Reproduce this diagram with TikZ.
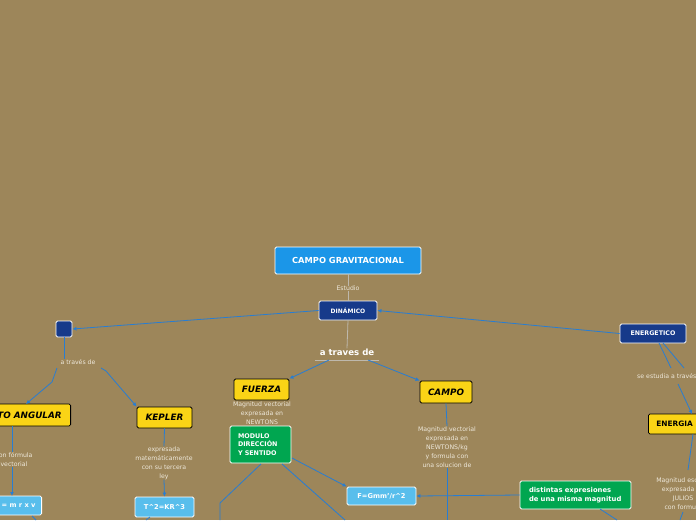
\documentclass[tikz,border=0pt]{standalone}
\usepackage{fontspec}
\setmainfont{DejaVu Sans}
\usetikzlibrary{arrows.meta}
\definecolor{fondo}{RGB}{157,134,90}
\definecolor{azulvivo}{RGB}{27,150,232}
\definecolor{marino}{RGB}{22,58,138}
\definecolor{amarillo}{RGB}{250,212,22}
\definecolor{verde}{RGB}{0,166,80}
\definecolor{celeste}{RGB}{88,190,236}
\definecolor{enlace}{RGB}{40,125,210}
\definecolor{gris}{RGB}{190,184,172}
\definecolor{rotulo}{RGB}{238,232,218}
\begin{document}
\begin{tikzpicture}[x=1pt,y=-1pt,
  caja/.style={draw=white, line width=0.8pt, rounded corners=1.5pt, inner sep=0pt,
    text=white, font=\bfseries\fontsize{6.7}{8.5}\selectfont},
  tema/.style={draw=black, fill=amarillo, line width=0.8pt, rounded corners=1.5pt,
    inner sep=0pt, font=\bfseries\itshape\fontsize{8.8}{9}\selectfont},
  rotulo/.style={text=rotulo, font=\fontsize{6.2}{9}\selectfont, align=center, inner sep=0pt},
  enlace/.style={draw=enlace, line width=0.8pt},
  flecha/.style={enlace, -{Latex[length=4pt,width=4pt]}},
  guia/.style={draw=gris, line width=0.8pt}]

  \fill[fondo] (0,0) rectangle (696,520);
  \useasboundingbox (0,0) rectangle (696,520);

  % centro
  \node[caja, fill=azulvivo, minimum width=146, minimum height=27,
    font=\bfseries\fontsize{8.3}{9}\selectfont] (campograv) at (348,260.5) {CAMPO GRAVITACIONAL};
  \node[rotulo] (estudio) at (348,288.5) {Estudio};
  \node[caja, fill=marino, minimum width=58, minimum height=19,
    font=\bfseries\fontsize{6}{8}\selectfont] (dinamico) at (348,310.5) {DINÁMICO};
  \node[text=white, inner sep=0pt, font=\bfseries\fontsize{8.6}{9}\selectfont] (atraves) at (347,352) {a traves de};
  \coordinate (subizq) at (315,360);
  \coordinate (subder) at (379,360);
  \coordinate (sal1) at (329,360);
  \coordinate (sal2) at (368,360);

  \draw[guia] (campograv.south) -- (estudio.north);
  \draw[guia] (estudio.south) -- (dinamico.north);
  \draw[guia] (dinamico.south) -- (atraves.north);
  \draw[guia] (subizq) -- (subder);

  % laterales
  \node[caja, fill=marino, minimum width=16, minimum height=16] (cuadro) at (64,329) {};
  \node[caja, fill=marino, minimum width=66, minimum height=19,
    font=\bfseries\fontsize{6.3}{8}\selectfont] (energetico) at (653,333.5) {ENERGETICO};
  \draw[flecha] (dinamico.west) -- (cuadro.east);
  \draw[flecha] (energetico.west) -- (dinamico.east);

  % rama izquierda
  \node[rotulo] (atraves2) at (78,362) {a través de};
  \node[tema, anchor=east, minimum height=22, inner xsep=9pt] (momento) at (71,415) {MOMENTO ANGULAR};
  \node[tema, minimum width=55, minimum height=21] (kepler) at (164.5,417.5) {KEPLER};
  \node[rotulo] (formvec) at (14,459.5) {con fórmula\\vectorial};
  \node[caja, fill=celeste, anchor=east, minimum height=19, inner xsep=6pt] (momfor) at (42,505.5) {L = m r x v};
  \node[rotulo] (keplertxt) at (164,463) {expresada\\matemáticamente\\con su tercera\\ley};
  \node[caja, fill=celeste, minimum width=59, minimum height=20] (tercera) at (164.5,507) {T\textasciicircum 2=KR\textasciicircum 3};
  \coordinate (codo1) at (52,382);
  \coordinate (momarr) at (26,404);
  \coordinate (momsal) at (12,426);
  \coordinate (momfin) at (12,496);
  \coordinate (forsal) at (32,516);
  \coordinate (forfin) at (36,520);
  \coordinate (tersal) at (150,517);
  \coordinate (terfin) at (146,520);

  \draw[enlace] (cuadro.south) -- (cuadro |- atraves2.north);
  \draw[flecha] (57,368) -- (codo1) -- (momarr);
  \draw[flecha] (101,368) -- (106,371) -- (kepler.north west);
  \draw[enlace] (momsal) -- (momsal |- formvec.north);
  \draw[flecha] (momsal |- formvec.south) -- (momfin);
  \draw[enlace] (kepler.south) -- (keplertxt.north);
  \draw[flecha] (keplertxt.south) -- (tercera.north);
  \draw[enlace] (forsal) -- (forfin);
  \draw[enlace] (tersal) -- (terfin);

  % rama central
  \node[tema, minimum width=55, minimum height=21] (fuerza) at (261.5,389.5) {FUERZA};
  \node[rotulo] (fuerzatxt) at (262,413) {Magnitud vectorial\\expresada en\\NEWTONS};
  \node[caja, fill=verde, minimum width=61, minimum height=37, text width=45, align=left,
    font=\bfseries\fontsize{6.4}{8.5}\selectfont] (modulo) at (260.5,444.5) {MODULO\\DIRECCIÓN\\Y SENTIDO};
  \node[tema, minimum width=52, minimum height=22] (campo) at (446,392) {CAMPO};
  \node[rotulo] (campotxt) at (447,447) {Magnitud vectorial\\expresada en\\NEWTONS/kg\\y formula con\\una solucion de};
  \node[caja, fill=celeste, minimum width=69, minimum height=18] (gmm) at (381.5,496) {F=Gmm'/r\textasciicircum 2};
  \node[caja, fill=verde, minimum width=111, minimum height=28, text width=93, align=left,
    font=\bfseries\fontsize{6.8}{9}\selectfont] (distintas) at (575.5,495) {distintas expresiones\\de una misma magnitud};
  \coordinate (modsal1) at (292,458);
  \coordinate (modsal2) at (282,464);
  \coordinate (modsal3) at (261,464);
  \coordinate (codo2) at (220,503);
  \coordinate (baja1) at (345,520);
  \coordinate (baja2) at (220,520);
  \coordinate (baja3) at (447,520);
  \coordinate (dissal) at (600,509);
  \coordinate (disfin) at (617,520);

  \draw[flecha] (sal1) -- (fuerza.north east);
  \draw[flecha] (sal2) -- (campo.north west);
  \draw[flecha] (modsal1) -- (gmm.north west);
  \draw[enlace] (modsal2) -- (baja1);
  \draw[enlace] (modsal3) -- (codo2) -- (baja2);
  \draw[enlace] (campo.south) -- (campotxt.north);
  \draw[enlace] (campotxt.south) -- (baja3);
  \draw[flecha] (distintas.west) -- (gmm.east);
  \draw[enlace] (dissal) -- (disfin);

  % rama derecha
  \node[rotulo, anchor=west] (estudiatxt) at (637,376) {se estudia a través de};
  \node[tema, anchor=west, minimum height=20, inner xsep=8pt,
    font=\bfseries\fontsize{7.4}{9}\selectfont] (energia) at (648,424) {ENERGIA POTENCIAL};
  \node[rotulo] (energiatxt) at (683,493.5) {Magnitud escalar\\expresada en\\JULIOS\\con formula};
  \coordinate (enesal1) at (659,343);
  \coordinate (enesal2) at (663,343);
  \coordinate (enefin1) at (671,368);
  \coordinate (enefin2) at (684,368);
  \coordinate (estsal) at (678,384);
  \coordinate (eneaba) at (692,414);
  \coordinate (potsal) at (693,434);
  \coordinate (potfin) at (688,470);
  \coordinate (txtsal) at (683,512);
  \coordinate (txtfin) at (680,520);

  \draw[enlace] (enesal1) -- (enefin1);
  \draw[enlace] (enesal2) -- (enefin2);
  \draw[flecha] (estsal) -- (eneaba);
  \draw[enlace] (potsal) -- (potfin);
  \draw[enlace] (txtsal) -- (txtfin);
\end{tikzpicture}
\end{document}
